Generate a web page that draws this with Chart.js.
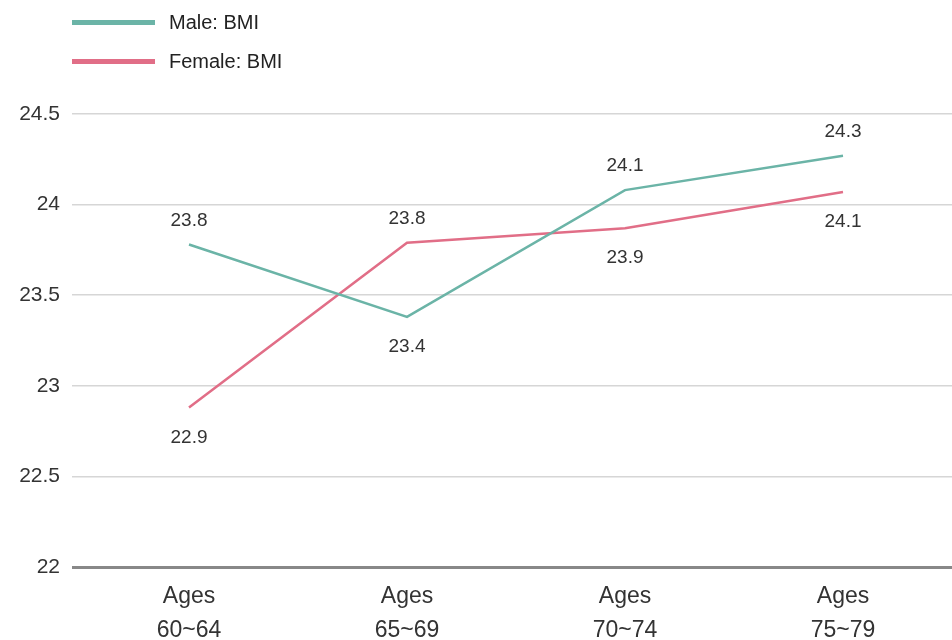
<!DOCTYPE html>
<html>
<head>
<meta charset="utf-8">
<script src="https://cdn.jsdelivr.net/npm/chart.js@4/dist/chart.umd.min.js"></script>
<style>
    html, body { margin: 0; padding: 0; background: #fff; }
    #wrap { position: relative; width: 952px; height: 640px; }
    #legend { position: absolute; left: 72px; top: 3px; font-family: 'Liberation Sans', Arial, sans-serif; font-size: 20px; color: #222; }
    .item { display: flex; align-items: center; height: 39px; }
    .swatch { width: 83px; height: 5px; margin-right: 14px; }
</style>
</head>
<body>
<div id="wrap">
    <canvas id="bmiChart" width="952" height="640"></canvas>
    <div id="legend"></div>
</div>
<script>
// Data
const ageGroups = [['Ages', '60~64'], ['Ages', '65~69'], ['Ages', '70~74'], ['Ages', '75~79']];
const maleBmi = [23.78, 23.38, 24.08, 24.27];
const femaleBmi = [22.88, 23.79, 23.87, 24.07];
const seriesNames = ['Male: BMI', 'Female: BMI'];
const seriesColors = ['#6bb4a7', '#e16e87'];

// Draw value labels above the higher point and below the lower one
const valueLabels = {
    id: 'valueLabels',
    afterDatasetsDraw(chart) {
        const ctx = chart.ctx;
        ctx.save();
        ctx.font = '19px "Liberation Sans", Arial, sans-serif';
        ctx.fillStyle = '#333';
        ctx.textAlign = 'center';
        ctx.textBaseline = 'middle';
        chart.data.datasets.forEach(function(ds, di) {
            const meta = chart.getDatasetMeta(di);
            meta.data.forEach(function(pt, i) {
                const others = chart.data.datasets.map(d => d.data[i]);
                const isTop = ds.data[i] >= Math.max.apply(null, others);
                const y = isTop ? pt.y - 24 : pt.y + 30;
                ctx.fillText(ds.data[i].toFixed(1), pt.x, y);
            });
        });
        ctx.restore();
    }
};

const ctx = document.getElementById('bmiChart').getContext('2d');
const bmiChart = new Chart(ctx, {
    type: 'line',
    data: {
        labels: ageGroups,
        datasets: [{
            label: seriesNames[0],
            data: maleBmi,
            borderColor: seriesColors[0],
            backgroundColor: seriesColors[0],
            borderWidth: 2.5,
            pointRadius: 0,
            tension: 0
        }, {
            label: seriesNames[1],
            data: femaleBmi,
            borderColor: seriesColors[1],
            backgroundColor: seriesColors[1],
            borderWidth: 2.5,
            pointRadius: 0,
            tension: 0
        }]
    },
    options: {
        responsive: false,
        animation: false,
        layout: { padding: { top: 114, right: 0, left: 0, bottom: 0 } },
        plugins: {
            legend: { display: false },
            tooltip: { enabled: false }
        },
        scales: {
            x: {
                offset: true,
                grid: { display: false, drawTicks: false },
                border: { display: false },
                ticks: {
                    color: '#333',
                    padding: 12,
                    maxRotation: 0,
                    font: { family: '"Liberation Sans Narrow", "Liberation Sans", Arial, sans-serif', size: 23, lineHeight: 1.5 }
                },
                afterFit: function(scale) { scale.height = 73; }
            },
            y: {
                min: 22,
                max: 24.5,
                ticks: {
                    stepSize: 0.5,
                    color: '#333',
                    padding: 12,
                    font: { family: '"Liberation Sans", Arial, sans-serif', size: 21 },
                    callback: function(value) { return String(value); }
                },
                grid: {
                    color: function(c) { return c.tick && c.tick.value === 22 ? '#888' : '#d6d6d6'; },
                    lineWidth: function(c) { return c.tick && c.tick.value === 22 ? 3 : 1.5; },
                    tickLength: 8,
                    drawTicks: true
                },
                border: { display: false },
                afterFit: function(scale) { scale.width = 80; }
            }
        }
    },
    plugins: [valueLabels]
});

// HTML legend
const legend = document.getElementById('legend');
seriesNames.forEach(function(name, i) {
    const item = document.createElement('div');
    item.className = 'item';
    item.innerHTML = '<span class="swatch" style="background:' + seriesColors[i] + '"></span><span>' + name + '</span>';
    legend.appendChild(item);
});
</script>
</body>
</html>
